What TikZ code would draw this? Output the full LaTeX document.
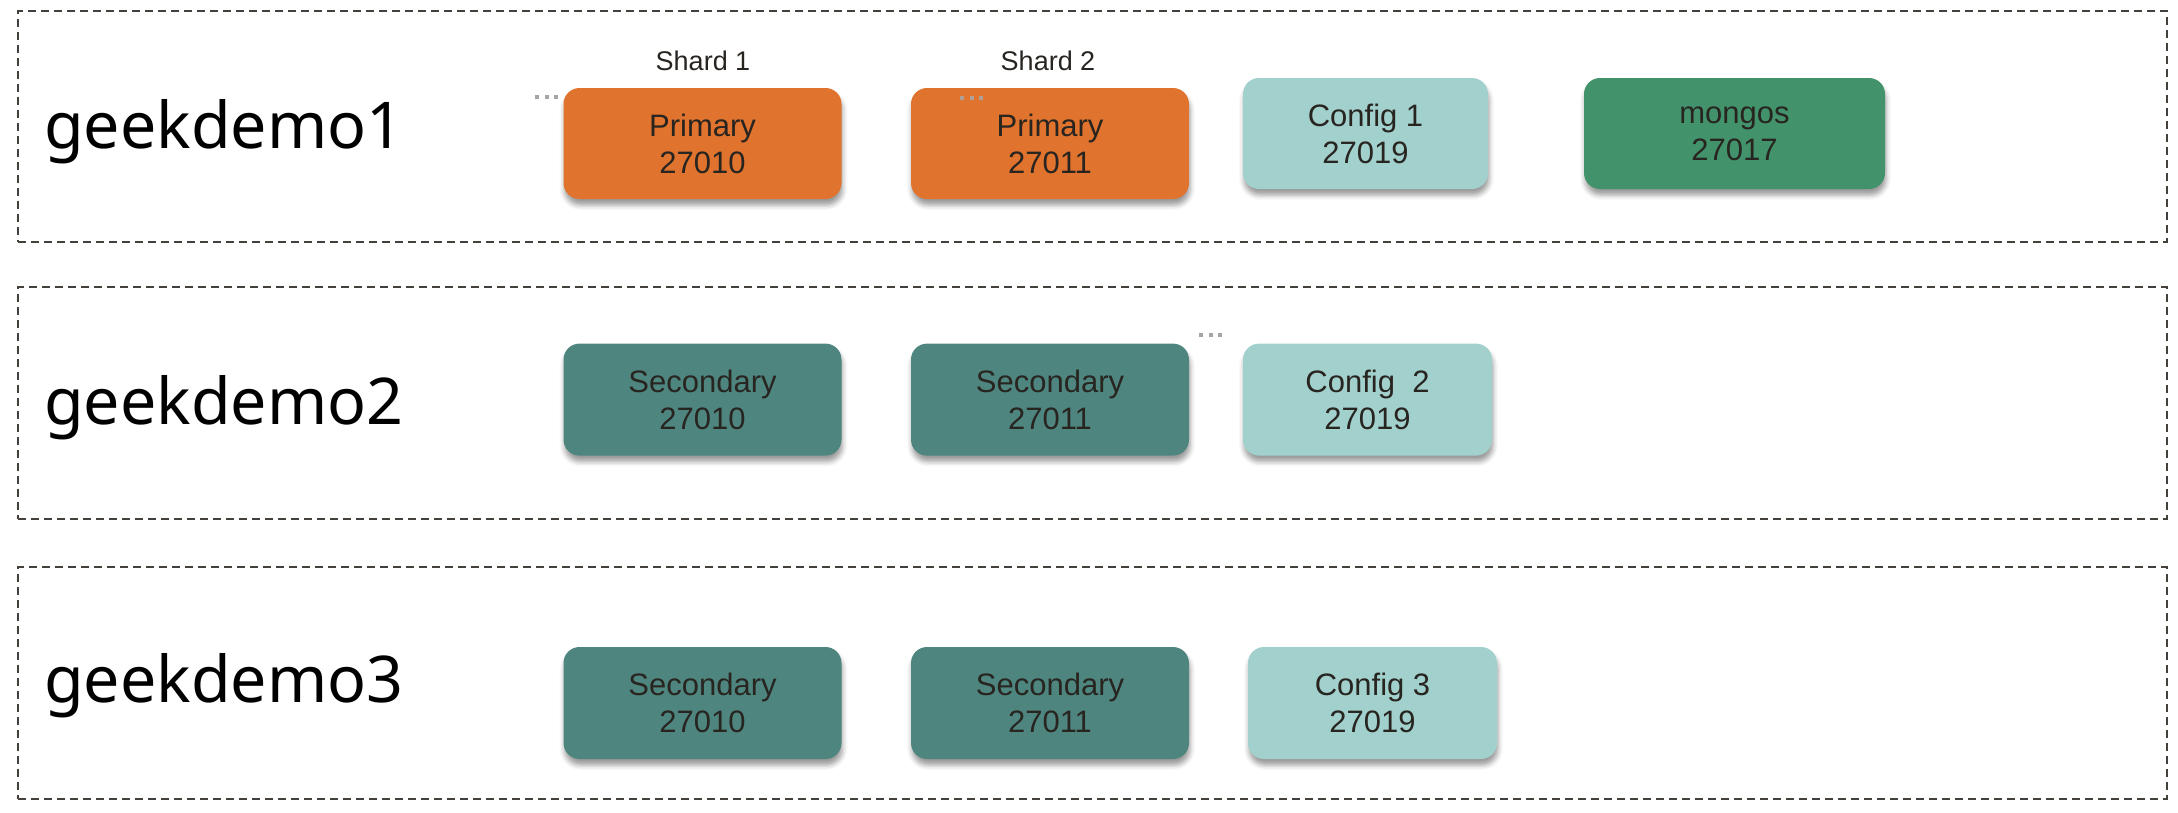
\documentclass[tikz,border=0pt]{standalone}
\usepackage{fontspec}
\setmainfont{Liberation Sans}
\newfontfamily\hostfont{Noto Sans}
\usetikzlibrary{shadows.blur}
\definecolor{primc}{RGB}{224,115,45}
\definecolor{secc}{RGB}{78,134,127}
\definecolor{confc}{RGB}{162,209,205}
\definecolor{mongoc}{RGB}{66,147,107}
\definecolor{txtc}{RGB}{40,37,33}
\definecolor{framec}{RGB}{68,64,60}
\definecolor{dotc}{RGB}{165,165,165}
\definecolor{dotd}{RGB}{175,160,150}
\tikzset{
  hostframe/.style={rectangle, draw=framec, line width=1.5pt, dash pattern=on 8pt off 5pt,
    minimum width=2149pt, minimum height=231pt, inner sep=0pt},
  hostlabel/.style={font=\hostfont\fontsize{64.5}{72}\selectfont, anchor=base west, inner sep=0pt, text=black},
  shardlabel/.style={font=\fontsize{27}{32}\selectfont, anchor=base, inner sep=0pt, text=txtc},
  srv/.style={rectangle, rounded corners=16pt, minimum height=111pt, inner sep=0pt,
    align=center, text=txtc, font=\fontsize{31}{37}\selectfont,
    blur shadow={shadow xshift=1pt, shadow yshift=-6pt, shadow blur radius=5pt, shadow opacity=40}},
  primbox/.style={srv, fill=primc, minimum width=278pt},
  secbox/.style={srv, fill=secc, minimum width=278pt, minimum height=112pt},
  confbox/.style={srv, fill=confc, minimum width=249pt},
  mongobox/.style={srv, fill=mongoc, minimum width=301pt},
}
\begin{document}
\begin{tikzpicture}[x=1pt,y=-1pt]
\useasboundingbox (0,0) rectangle (2178,812);
% host frames
\node[hostframe] (h1) at (1092.5,126.5) {};
\node[hostframe, minimum height=232pt] (h2) at (1092.5,403) {};
\node[hostframe, minimum height=232pt] (h3) at (1092.5,683) {};
% host labels
\node[hostlabel] (l1) at (44,148) {geekdemo1};
\node[hostlabel] (l2) at (44,424) {geekdemo2};
\node[hostlabel] (l3) at (44,702) {geekdemo3};
% shard labels
\node[shardlabel] (s1) at (703,70) {Shard 1};
\node[shardlabel] (s2) at (1048,70) {Shard 2};
% row 1
\node[primbox] (p1) at (702.5,143.5) {Primary\\27010};
\node[primbox] (p2) at (1050,143.5) {Primary\\27011};
\node[confbox, minimum width=245pt] (c1) at (1365.5,133.5) {Config 1\\27019};
\node[mongobox] (m1) at (1734.5,133.5) {mongos\\27017};
% row 2
\node[secbox] (a2) at (702.5,399.6) {Secondary\\27010};
\node[secbox] (b2) at (1050,399.6) {Secondary\\27011};
\node[confbox, minimum height=112pt] (c2) at (1367.5,399.6) {Config\ \ 2\\27019};
% row 3
\node[secbox] (a3) at (702.5,703) {Secondary\\27010};
\node[secbox] (b3) at (1050,703) {Secondary\\27011};
\node[confbox, minimum height=112pt] (c3) at (1372.5,703) {Config 3\\27019};
% small dots
\foreach \x/\y/\c in {535/97/dotc, 960/98/dotd, 1199/335/dotc} {
  \foreach \i in {0,1,2} {
    \fill[\c] (\x+\i*9.5,\y-2) rectangle ++(4,4);
  }
}
\end{tikzpicture}
\end{document}
